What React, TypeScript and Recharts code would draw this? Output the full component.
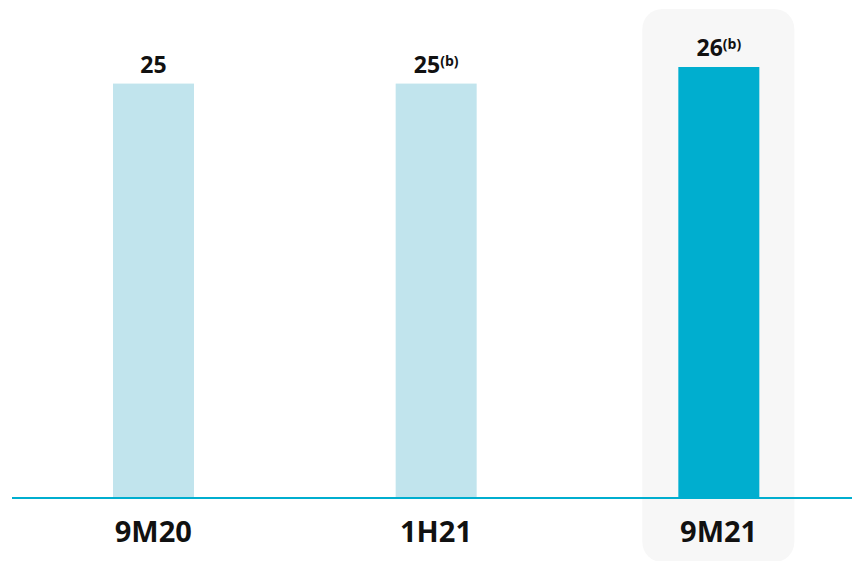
import React from "react";
import { BarChart, Bar, XAxis, YAxis, Cell, LabelList, ReferenceLine } from "recharts";

const categories = ["9M20", "1H21", "9M21"];
const values = [25, 25, 26];
const notes = ["", "(b)", "(b)"];
const highlightCategory = "9M21";

const data = categories.map((c, i) => ({ name: c, value: values[i], note: notes[i] }));

const FONT = "'Open Sans', 'DejaVu Sans', sans-serif";
const LIGHT = "#C1E4ED";
const DARK = "#00AECF";
const AXIS = "#00AECF";
const HIGHLIGHT_BG = "#F7F7F7";

const BarShape = (props: any) => {
  const { x, y, width, height, fill, payload } = props;
  const isHi = payload && payload.name === highlightCategory;
  return (
    <g>
      {isHi && (
        <rect
          x={x - 36}
          y={y - 58}
          width={width + 71}
          height={height + 58 + 64}
          rx={20}
          ry={20}
          fill={HIGHLIGHT_BG}
        />
      )}
      <rect x={x} y={y} width={width} height={height} fill={fill} />
    </g>
  );
};

const ValueLabel = (props: any) => {
  const { x, y, width, index } = props;
  const note = notes[index];
  return (
    <text
      x={x + width / 2}
      y={y - 11}
      textAnchor="middle"
      fontFamily={FONT}
      fontWeight={700}
      fontSize={23}
      fill="#111"
    >
      {values[index]}
      {note ? (
        <tspan fontSize={14} dy={-7}>
          {note}
        </tspan>
      ) : null}
    </text>
  );
};

const Tick = (props: any) => {
  const { x, y, payload } = props;
  return (
    <text
      x={x}
      y={y + 44}
      textAnchor="middle"
      fontFamily={FONT}
      fontWeight={700}
      fontSize={29}
      fill="#111"
    >
      {payload.value}
    </text>
  );
};

export default function App() {
  return (
    <div
      style={{
        position: "absolute",
        left: 0,
        top: 0,
        width: 852,
        height: 561,
        overflow: "hidden",
        background: "#fff",
      }}
    >
      <BarChart
        width={860}
        height={561}
        data={data}
        margin={{ top: 67, right: 0, bottom: 0, left: 12 }}
        barSize={81}
      >
        <YAxis hide domain={[0, 26]} />
        <Bar dataKey="value" isAnimationActive={false} shape={BarShape}>
          {data.map((d) => (
            <Cell key={d.name} fill={d.name === highlightCategory ? DARK : LIGHT} />
          ))}
          <LabelList dataKey="value" content={ValueLabel} />
        </Bar>
        <XAxis
          dataKey="name"
          axisLine={false}
          tickLine={false}
          tickSize={0}
          tickMargin={0}
          height={63}
          interval={0}
          tick={Tick}
        />
        <ReferenceLine y={0} stroke={AXIS} strokeWidth={2} ifOverflow="visible" />
      </BarChart>
    </div>
  );
}
